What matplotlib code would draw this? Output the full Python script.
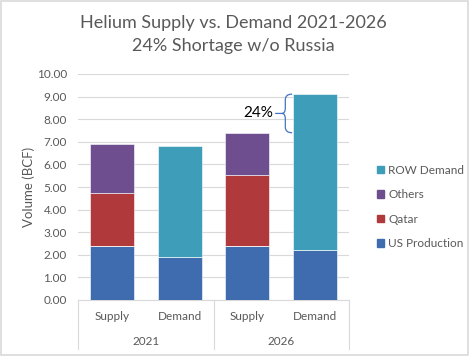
import numpy as np
import matplotlib
matplotlib.use("Agg")
import matplotlib.pyplot as plt
from matplotlib.patches import Patch, PathPatch, Rectangle
from matplotlib.path import Path
from matplotlib import transforms

plt.rcParams['font.family'] = ['Lato', 'DejaVu Sans']

# data
years = ["2021", "2026"]
bar_labels = ["Supply", "Demand", "Supply", "Demand"]
us_production = [2.40, 1.90, 2.40, 2.22]
qatar = [2.32, 0.00, 3.12, 0.00]
others = [2.17, 0.00, 1.88, 0.00]
row_demand = [0.00, 4.93, 0.00, 6.89]
shortage_label = "24%"

c_us = "#3F6CAF"
c_qa = "#B0393B"
c_ot = "#6E4E8E"
c_row = "#3E9DB8"
grey = "#595959"
grid = "#D9D9D9"

fig = plt.figure(figsize=(4.69, 3.56), dpi=100)
ax = fig.add_axes([78/469, 1-300/356, (349-78)/469, (300-74)/356])

x = np.arange(len(bar_labels))
w = 0.65
us = np.array(us_production)
qa = np.array(qatar)
ot = np.array(others)
rw = np.array(row_demand)
kw = dict(width=w, edgecolor="white", linewidth=0.4, zorder=3)
ax.bar(x, us, color=c_us, **kw)
ax.bar(x, qa, bottom=us, color=c_qa, **kw)
ax.bar(x, ot, bottom=us + qa, color=c_ot, **kw)
ax.bar(x, rw, bottom=us, color=c_row, **kw)

ax.set_xlim(-0.5, 3.5)
ax.set_ylim(0, 10)
ax.set_yticks(np.arange(0, 11, 1))
ax.yaxis.set_major_formatter(plt.FormatStrFormatter("%.2f"))
ax.tick_params(axis="y", length=0, labelsize=8.5, labelcolor=grey, pad=8)
ax.set_xticks([])
ax.grid(axis="y", color=grid, linewidth=0.8, zorder=0)
for s in ["top", "right", "left"]:
    ax.spines[s].set_visible(False)
ax.spines["bottom"].set_color(grid)
ax.set_ylabel("Volume (BCF)", fontsize=9.5, color=grey, labelpad=1)

# two level category axis
tr = transforms.blended_transform_factory(ax.transData, ax.transAxes)
for xv in [-0.5, 1.5, 3.5]:
    ax.plot([xv, xv], [0, -0.215], color=grid, lw=0.8, transform=tr, clip_on=False)
for i, lab in enumerate(bar_labels):
    ax.text(x[i], -0.072, lab, transform=tr, ha="center", va="center", fontsize=8.5, color=grey)
for j, yr in enumerate(years):
    ax.text(2*j + 0.5, -0.183, yr, transform=tr, ha="center", va="center", fontsize=8.5, color=grey)

# brace for shortage
tot = us + qa + ot + rw
y_top = tot[3]
y_bot = tot[2]
y_mid = (y_top + y_bot) / 2
xe = x[3] - w/2 - 0.015
xm = xe - 0.1
xt = xm - 0.15
r = 0.25
verts = [(xe, y_top), (xm, y_top), (xm, y_top - r),
         (xm, y_mid + r),
         (xm, y_mid), (xm - 0.05, y_mid),
         (xt, y_mid),
         (xm - 0.05, y_mid), (xm, y_mid), (xm, y_mid - r),
         (xm, y_bot + r),
         (xm, y_bot), (xe, y_bot)]
codes = [Path.MOVETO, Path.CURVE3, Path.CURVE3,
         Path.LINETO,
         Path.CURVE3, Path.CURVE3,
         Path.LINETO,
         Path.MOVETO, Path.CURVE3, Path.CURVE3,
         Path.LINETO,
         Path.CURVE3, Path.CURVE3]
ax.add_patch(PathPatch(Path(verts, codes), fill=False, edgecolor="#4472C4", lw=0.9, zorder=4))
ax.text(xt - 0.03, y_mid, shortage_label, ha="right", va="center", fontsize=11, color="black", zorder=5)

fig.text(233/469, 1-23/356, "Helium Supply vs. Demand 2021-2026", ha="center", va="center",
         fontsize=13, color=grey)
fig.text(233/469, 1-46/356, "24% Shortage w/o Russia", ha="center", va="center",
         fontsize=13, color=grey)

handles = [Patch(color=c_row), Patch(color=c_ot), Patch(color=c_qa), Patch(color=c_us)]
labels = ["ROW Demand", "Others", "Qatar", "US Production"]
fig.legend(handles, labels, loc="center left", bbox_to_anchor=(366/469, 1-207/356),
           frameon=False, fontsize=8.5, labelcolor=grey, handlelength=0.6, handleheight=0.6,
           handletextpad=0.4, labelspacing=1.15)

fig.patches.append(Rectangle((0.003, 0.004), 0.994, 0.992, transform=fig.transFigure,
                             fill=False, edgecolor=grid, lw=1.2))

fig.savefig("out.png", dpi=100)
